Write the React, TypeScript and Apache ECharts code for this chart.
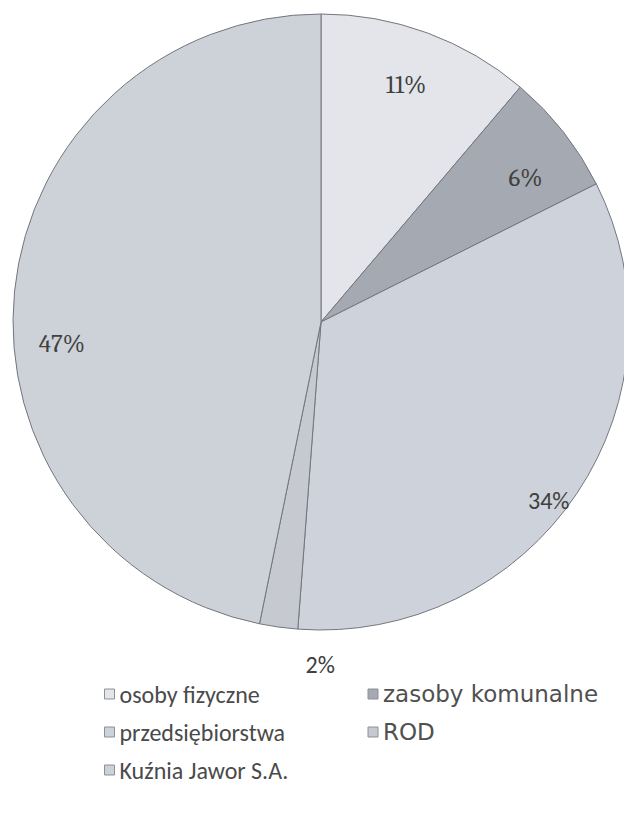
import React, { useEffect, useRef } from "react";
import * as echarts from "echarts";

const categories = [
  "osoby fizyczne",
  "zasoby komunalne",
  "przedsiębiorstwa",
  "ROD",
  "Kuźnia Jawor S.A.",
];
const shares = [11.2, 6.4, 33.6, 2.0, 46.8];
const sliceColors = ["#e3e5ea", "#a5a9b1", "#ced2da", "#c6c9d0", "#cdd1d8"];
const labelOffsets: [number, number][] = [
  [-2, 0],
  [6, 11],
  [18, 38],
  [34, 92],
  [-8, 47],
];
const labelFonts = ["serif", "serif", "sans", "sans", "serif"];
const legendWide = [false, true, false, true, false];

const SANS = "Carlito, Lato, 'Open Sans', sans-serif";
const WIDE = "'DejaVu Sans', 'Open Sans', sans-serif";
const SERIF = "Caladea, 'Liberation Serif', 'DejaVu Serif', serif";

export default function App() {
  const ref = useRef<HTMLDivElement>(null);
  useEffect(() => {
    if (!ref.current) return;
    const chart = echarts.init(ref.current, undefined, { renderer: "svg" });
    const R = 308;
    const center = [321, 322];
    chart.setOption({
      animation: false,
      backgroundColor: "#ffffff",
      legend: {
        left: 104,
        top: 682,
        width: 540,
        padding: 0,
        orient: "horizontal",
        itemWidth: 10,
        itemHeight: 10,
        itemGap: 14,
        icon: "rect",
        selectedMode: false,
        itemStyle: { borderColor: "#8d9096", borderWidth: 1 },
        textStyle: {
          fontFamily: SANS,
          fontSize: 24,
          color: "#4a4a4a",
          width: 234,
          lineHeight: 24,
          padding: [0, 0, 0, 0],
        },
        data: categories.map((c, i) =>
          legendWide[i]
            ? { name: c, textStyle: { fontFamily: WIDE, fontSize: 23, color: "#505050" } }
            : { name: c }
        ),
      },
      series: [
        {
          type: "pie",
          name: "main",
          center,
          radius: [0, R],
          startAngle: 90,
          clockwise: true,
          silent: true,
          label: { show: false },
          labelLine: { show: false },
          itemStyle: { borderColor: "#73767e", borderWidth: 1 },
          data: categories.map((c, i) => ({
            name: c,
            value: shares[i],
            itemStyle: { color: sliceColors[i] },
          })),
        },
        {
          type: "pie",
          name: "labels",
          center,
          radius: [R * 0.62, R],
          startAngle: 90,
          clockwise: true,
          silent: true,
          labelLine: { show: false },
          itemStyle: { color: "rgba(0,0,0,0)", borderWidth: 0 },
          label: {
            show: true,
            position: "inside",
            fontSize: 24,
            color: "#404040",
            formatter: (p: any) => Math.round(p.value) + "%",
          },
          data: categories.map((c, i) => ({
            name: c,
            value: shares[i],
            label: {
              offset: labelOffsets[i],
              fontFamily: labelFonts[i] === "serif" ? SERIF : SANS,
              fontSize: labelFonts[i] === "serif" ? 25 : 24,
            },
          })),
        },
      ],
    });
    return () => chart.dispose();
  }, []);
  return (
    <div
      ref={ref}
      style={{ position: "absolute", left: 0, top: 0, width: 624, height: 823 }}
    />
  );
}
